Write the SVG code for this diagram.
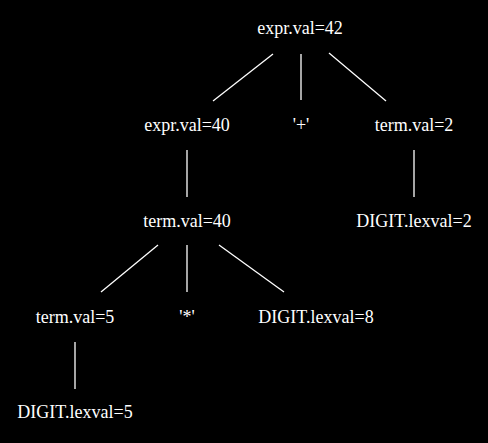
<svg xmlns="http://www.w3.org/2000/svg" width="488" height="443" viewBox="0 0 488 443">
<style>
text{font-family:"Liberation Serif","Times New Roman",serif;font-size:18px;fill:#fff;text-anchor:middle}
line{stroke:#fff;stroke-width:1.3}
</style>
<rect width="488" height="443" fill="#000"/>
<g id="connectors">
<line x1="273" y1="54" x2="213" y2="101"/>
<line x1="301" y1="54" x2="301" y2="100"/>
<line x1="329" y1="53" x2="386" y2="101"/>
<line x1="187" y1="150" x2="187" y2="197"/>
<line x1="414" y1="150" x2="414" y2="197"/>
<line x1="158" y1="245" x2="101" y2="292"/>
<line x1="187" y1="245" x2="187" y2="292"/>
<line x1="219" y1="245" x2="284" y2="292"/>
<line x1="75" y1="342" x2="75" y2="389"/>
</g>
<g id="n_expr42"><text x="300" y="34">expr.val=42</text></g>
<g id="n_expr40"><text x="187" y="131">expr.val=40</text></g>
<g id="n_plus"><text x="301" y="131">'+'</text></g>
<g id="n_term2"><text x="414" y="131">term.val=2</text></g>
<g id="n_term40"><text x="187" y="227">term.val=40</text></g>
<g id="n_digit2"><text x="414" y="227">DIGIT.lexval=2</text></g>
<g id="n_term5"><text x="75" y="323">term.val=5</text></g>
<g id="n_star"><text x="187" y="323">'*'</text></g>
<g id="n_digit8"><text x="316" y="323">DIGIT.lexval=8</text></g>
<g id="n_digit5"><text x="75" y="418">DIGIT.lexval=5</text></g>
</svg>
